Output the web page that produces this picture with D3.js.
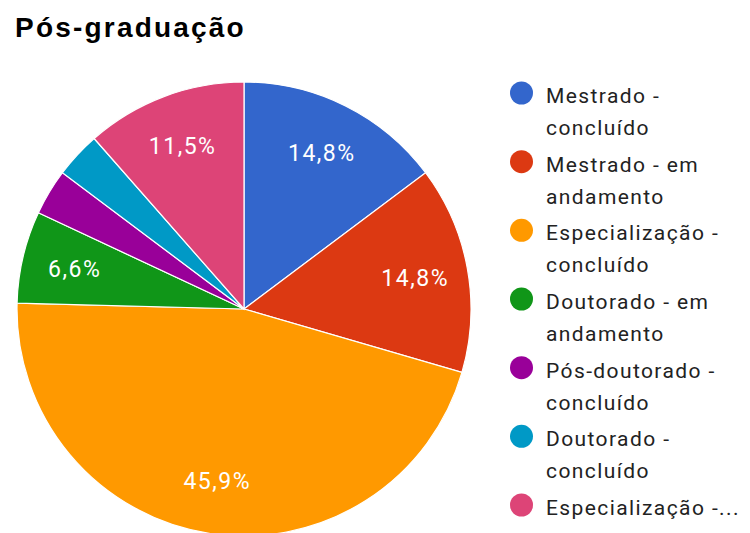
<!DOCTYPE html>
<html><head><meta charset="utf-8">
<script src="https://cdn.jsdelivr.net/npm/d3@7"></script>
<style>body{margin:0;background:#fff;} svg{display:block;}</style>
</head><body>
<svg id="chart" width="750" height="533"></svg>
<script>
const title = "Pós-graduação";
const categories = ["Mestrado - concluído","Mestrado - em andamento","Especialização - concluído","Doutorado - em andamento","Pós-doutorado - concluído","Doutorado - concluído","Especialização -..."];
const legendLines = [["Mestrado -","concluído"],["Mestrado - em","andamento"],["Especialização -","concluído"],["Doutorado - em","andamento"],["Pós-doutorado -","concluído"],["Doutorado -","concluído"],["Especialização -..."]];
const values = [9, 9, 28, 4, 2, 2, 7];
const colors = ["#3366cc","#dc3912","#ff9900","#109618","#990099","#0099c6","#dd4477"];

const svg = d3.select("#chart");
const cx = 244, cy = 309, R = 227;

svg.append("text").attr("x", 15).attr("y", 37)
  .attr("font-family", "Arial, 'Liberation Sans', sans-serif")
  .attr("font-weight", "bold").attr("font-size", 28).attr("letter-spacing", 2.2)
  .attr("fill", "#000")
  .text(title);

const total = d3.sum(values);
const pie = d3.pie().sort(null).value(d => d)(values);
const arc = d3.arc().innerRadius(0).outerRadius(R);
const labelArc = d3.arc().innerRadius(174).outerRadius(174);
const color = d3.scaleOrdinal().domain(d3.range(values.length)).range(colors);

const g = svg.append("g").attr("transform", `translate(${cx},${cy})`);
g.selectAll("path").data(pie).join("path")
  .attr("d", arc).attr("fill", (d,i) => color(i))
  .attr("stroke", "#fff").attr("stroke-width", 1.2);

const fmt = v => (v*100).toFixed(1).replace(".", ",") + "%";
g.selectAll("text.lbl").data(pie.filter(d => d.value/total >= 0.05)).join("text")
  .attr("class","lbl")
  .attr("transform", d => `translate(${labelArc.centroid(d)})`)
  .attr("text-anchor","middle").attr("dy", 8)
  .attr("font-family","Roboto, Arial, sans-serif").attr("font-size",23)
  .attr("letter-spacing", 1.5)
  .attr("fill","#fff").text(d => fmt(d.value/total));

const lg = svg.append("g");
const itemY = d3.scaleLinear().domain([0, categories.length-1]).range([93, 505]);
categories.forEach((c,i) => {
  const y = itemY(i);
  lg.append("circle").attr("cx", 521.5).attr("cy", y).attr("r", 11.5).attr("fill", color(i));
  const t = lg.append("text").attr("x", 546).attr("y", y + 10)
    .attr("font-family","Roboto, Arial, sans-serif").attr("font-size",21)
    .attr("letter-spacing", 1.4)
    .attr("fill","#222");
  legendLines[i].forEach((ln,j) => {
    t.append("tspan").attr("x",546).attr("dy", j===0 ? 0 : 32).text(ln);
  });
});
</script>
</body></html>
